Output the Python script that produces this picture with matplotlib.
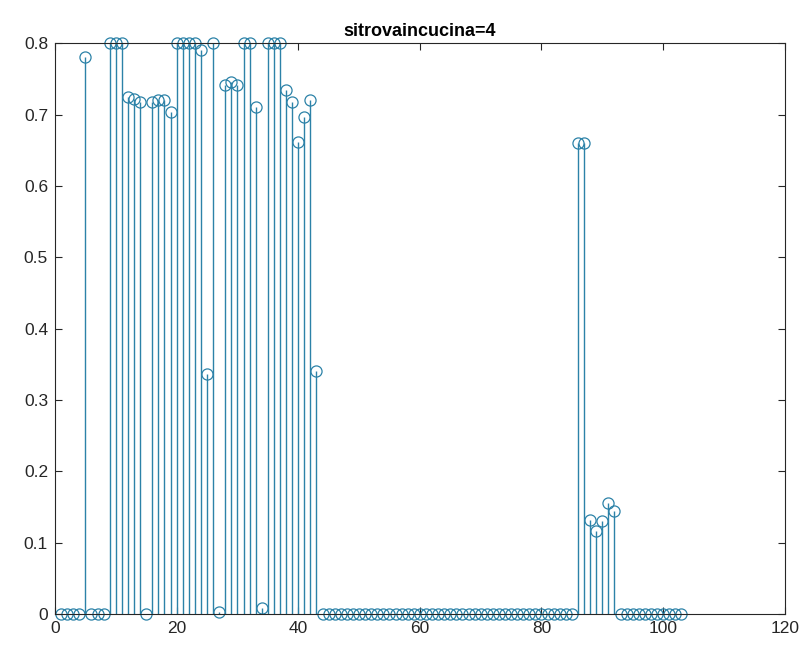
import numpy as np
import matplotlib
matplotlib.use("Agg")
import matplotlib.pyplot as plt

# =========================================================
# DATA
# =========================================================

TITLE = "sitrovaincucina=4"

idx = list(range(1, 104))

vals_1_43 = [
    0, 0, 0, 0, 0.78, 0, 0, 0, 0.8, 0.8,
    0.8, 0.724, 0.722, 0.717, 0, 0.717, 0.72, 0.72, 0.703, 0.8,
    0.8, 0.8, 0.8, 0.79, 0.336, 0.8, 0.003, 0.741, 0.746, 0.742,
    0.8, 0.8, 0.71, 0.008, 0.8, 0.8, 0.8, 0.734, 0.718, 0.661,
    0.697, 0.721, 0.34,
]
vals_44_85 = [0] * 42
vals_86_92 = [0.66, 0.66, 0.132, 0.117, 0.13, 0.155, 0.145]
vals_93_103 = [0] * 11

values = vals_1_43 + vals_44_85 + vals_86_92 + vals_93_103

xticks = [0, 20, 40, 60, 80, 100, 120]
yticks = [0, 0.1, 0.2, 0.3, 0.4, 0.5, 0.6, 0.7, 0.8]

# =========================================================
# PLOT
# =========================================================

plt.rcParams["font.family"] = ["Liberation Sans", "DejaVu Sans"]
STEM = "#2c82a8"
AX = "#262626"

fig = plt.figure(figsize=(8.09, 6.55), dpi=100)
ax = fig.add_axes([0.068, 0.0626, 0.902, 0.8715])

markers, stems, base = ax.stem(idx, values, basefmt=" ")
plt.setp(stems, color=STEM, linewidth=1.0)
plt.setp(markers, marker="o", markersize=8, markerfacecolor="none",
         markeredgecolor=STEM, markeredgewidth=0.9)
markers.set_clip_on(False)

ax.set_xlim(0, 120)
ax.set_ylim(0, 0.8)
ax.set_xticks(xticks)
ax.set_yticks(yticks)
ax.set_yticklabels(["0" if t == 0 else f"{t:g}" for t in yticks])

ax.tick_params(direction="in", top=True, right=True, length=5,
               width=0.8, colors=AX, labelsize=12.5, labelcolor=AX, pad=5)
for s in ax.spines.values():
    s.set_color(AX)
    s.set_linewidth(0.8)

ax.set_title(TITLE, fontsize=13, fontweight="bold", color="black", pad=5)

fig.savefig("out.png", dpi=100)
